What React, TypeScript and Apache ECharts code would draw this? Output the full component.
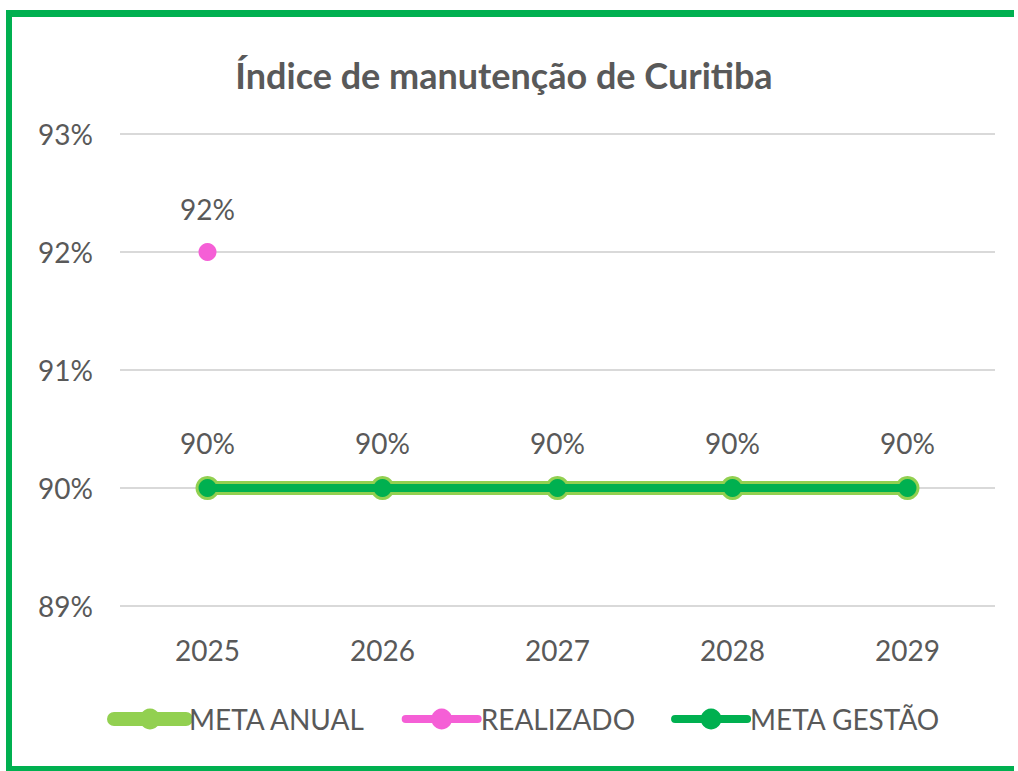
import React, { useEffect, useRef } from "react";
import * as echarts from "echarts";

const years = ["2025", "2026", "2027", "2028", "2029"];
const metaAnual = [90, 90, 90, 90, 90];
const realizado: (number | null)[] = [92, null, null, null, null];
const metaGestao = [90, 90, 90, 90, 90];
const yTicks = [89, 90, 91, 92, 93];

const FONT = "Lato";
const TXT = "#595959";
const BORDER = "#00B050";

export default function App() {
  const ref = useRef<HTMLDivElement>(null);
  useEffect(() => {
    if (!ref.current) return;
    const chart = echarts.init(ref.current, undefined, { renderer: "svg" });
    const pct = (p: any) => p.value + "%";
    chart.setOption({
      animation: false,
      backgroundColor: "#ffffff",
      title: {
        text: "Índice de manutenção de Curitiba",
        left: 499,
        top: 52,
        textAlign: "center",
        textStyle: { fontFamily: FONT, fontSize: 36, fontWeight: "bold", color: TXT },
      },
      graphic: [
        { type: "rect", shape: { x: 6, y: 10, width: 1008, height: 7 }, style: { fill: BORDER }, silent: true, z: 100 },
        { type: "rect", shape: { x: 6, y: 10, width: 6, height: 761 }, style: { fill: BORDER }, silent: true, z: 100 },
        { type: "rect", shape: { x: 6, y: 766, width: 1008, height: 5 }, style: { fill: BORDER }, silent: true, z: 100 },
      ],
      grid: { left: 120, right: 23, top: 134, bottom: 165 },
      xAxis: {
        type: "category",
        data: years,
        boundaryGap: true,
        axisLine: { show: false },
        axisTick: { show: false },
        axisLabel: { color: TXT, fontFamily: FONT, fontSize: 28, margin: 30 },
      },
      yAxis: {
        type: "value",
        min: yTicks[0],
        max: yTicks[yTicks.length - 1],
        interval: 1,
        axisLine: { show: false },
        axisTick: { show: false },
        splitLine: { lineStyle: { color: "#d9d9d9", width: 2 } },
        axisLabel: {
          color: TXT,
          fontFamily: FONT,
          fontSize: 28,
          margin: 27,
          formatter: (v: number) => v + "%",
        },
      },
      legend: {
        bottom: 33,
        left: 102,
        itemWidth: 72,
        itemHeight: 26,
        itemGap: 36,
        textStyle: { color: TXT, fontFamily: FONT, fontSize: 28, padding: [0, 0, 0, -2] },
        data: [
          { name: "META ANUAL", lineStyle: { width: 14, cap: "round" } },
          { name: "REALIZADO", lineStyle: { width: 8, cap: "round" } },
          { name: "META GESTÃO", lineStyle: { width: 8, cap: "round" } },
        ],
      },
      series: [
        {
          name: "META ANUAL",
          type: "line",
          data: metaAnual,
          symbol: "circle",
          symbolSize: 24,
          lineStyle: { color: "#92D050", width: 14, cap: "round" },
          itemStyle: { color: "#92D050" },
          label: { show: false },
          z: 2,
        },
        {
          name: "REALIZADO",
          type: "line",
          data: realizado,
          symbol: "circle",
          symbolSize: 18,
          lineStyle: { color: "#F55FD6", width: 8, cap: "round" },
          itemStyle: { color: "#F55FD6" },
          label: {
            show: true,
            position: "top",
            distance: 20,
            color: TXT,
            fontFamily: FONT,
            fontSize: 28,
            formatter: pct,
          },
          z: 3,
        },
        {
          name: "META GESTÃO",
          type: "line",
          data: metaGestao,
          symbol: "circle",
          symbolSize: 18,
          lineStyle: { color: "#00B050", width: 8, cap: "round" },
          itemStyle: { color: "#00B050" },
          label: {
            show: true,
            position: "top",
            distance: 22,
            color: TXT,
            fontFamily: FONT,
            fontSize: 28,
            formatter: pct,
          },
          z: 4,
        },
      ],
    });
    return () => chart.dispose();
  }, []);
  return (
    <div
      ref={ref}
      style={{ position: "fixed", left: 0, top: 0, width: 1018, height: 771 }}
    />
  );
}
